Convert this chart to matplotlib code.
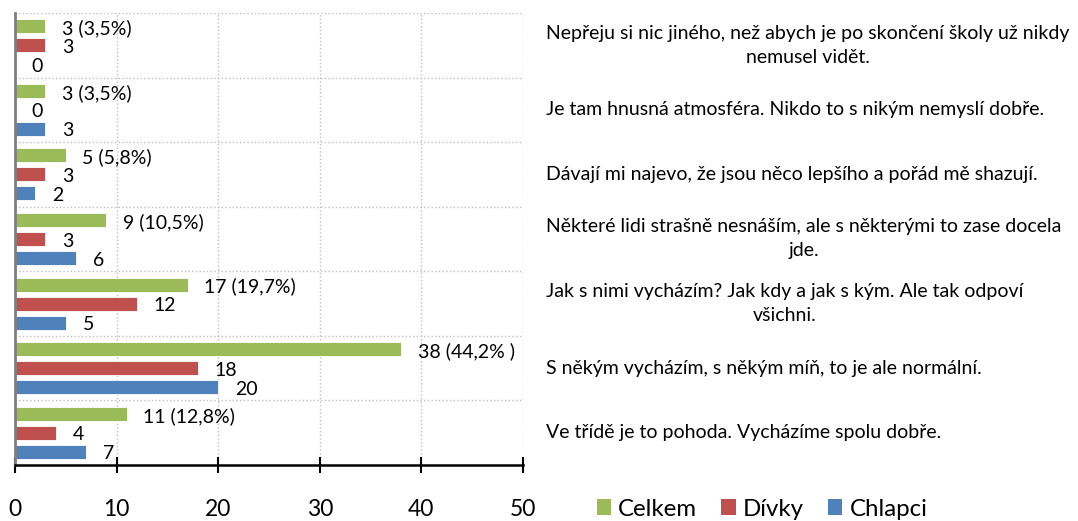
import matplotlib
matplotlib.use("Agg")
import matplotlib.pyplot as plt
from matplotlib.patches import Patch
import numpy as np

plt.rcParams['font.family'] = ['Lato', 'DejaVu Sans']

categories = [
    "Nepřeju si nic jiného, než abych je po skončení školy už nikdy\nnemusel vidět.",
    "Je tam hnusná atmosféra. Nikdo to s nikým nemyslí dobře.",
    "Dávají mi najevo, že jsou něco lepšího a pořád mě shazují.",
    "Některé lidi strašně nesnáším, ale s některými to zase docela\njde.",
    "Jak s nimi vycházím? Jak kdy a jak s kým. Ale tak odpoví\nvšichni.",
    "S někým vycházím, s někým míň, to je ale normální.",
    "Ve třídě je to pohoda. Vycházíme spolu dobře.",
]
celkem = [3, 3, 5, 9, 17, 38, 11]
celkem_pct = ["3,5%", "3,5%", "5,8%", "10,5%", "19,7%", "44,2% ", "12,8%"]
divky = [3, 0, 3, 3, 12, 18, 4]
chlapci = [0, 3, 2, 6, 5, 20, 7]
series_names = ["Celkem", "Dívky", "Chlapci"]
colors = ["#9BBB59", "#C0504D", "#4F81BD"]
xticks = [0, 10, 20, 30, 40, 50]

W, H = 1078, 521
fig = plt.figure(figsize=(W / 100, H / 100), dpi=100)
ax = fig.add_axes([15 / W, 1 - 465 / H, (523 - 15) / W, (465 - 13) / H])

n = len(categories)
y = np.arange(n)
pitch = 0.294
bh = 0.217
series = [celkem, divky, chlapci]
for k, (vals, c) in enumerate(zip(series, colors)):
    pos = y + (k - 1) * pitch
    ax.barh(pos, vals, height=bh, color=c, edgecolor='white', linewidth=0.6)
    for i, v in enumerate(vals):
        lab = f"{v} ({celkem_pct[i]})" if k == 0 else f"{v}"
        ax.annotate(lab, (v, pos[i]), xytext=(12, -1.5), textcoords='offset points',
                    ha='left', va='center', fontsize=14, color='#000000')

ax.set_xlim(0, 50)
ax.set_ylim(n - 0.5, -0.5)
ax.set_xticks(xticks)
ax.set_xticklabels([str(t) for t in xticks], fontsize=16.5)
ax.set_yticks([])
ax.set_yticks(np.arange(-0.5, n - 0.5, 1.0), minor=True)
ax.tick_params(axis='y', which='both', left=False, labelleft=False)
ax.tick_params(axis='x', direction='inout', length=11.5, width=1.5, pad=19, colors='black')
ax.grid(axis='x', which='major', linestyle=':', color='#BFBFBF', linewidth=1)
ax.grid(axis='y', which='minor', linestyle=':', color='#BFBFBF', linewidth=1)
ax.set_axisbelow(True)
for s in ['top', 'right']:
    ax.spines[s].set_visible(False)
ax.spines['left'].set_color('#808080')
ax.spines['left'].set_linewidth(2)
ax.spines['bottom'].set_color('black')
ax.spines['bottom'].set_linewidth(1.8)

for i, cat in enumerate(categories):
    ax.text(546 / W, 1 - (13 + 64.57 * (i + 0.5)) / H, cat, transform=fig.transFigure,
            ha='left', va='center', multialignment='center', fontsize=14, linespacing=1.5)

handles = [Patch(facecolor=c, edgecolor='none') for c in colors]
fig.legend(handles, series_names, loc='center', bbox_to_anchor=(762 / W, 1 - 509 / H),
           ncol=3, frameon=False, fontsize=17.3, handlelength=0.6, handleheight=0.6,
           handletextpad=0.3, columnspacing=1.0)

fig.savefig("out.png", dpi=100)
